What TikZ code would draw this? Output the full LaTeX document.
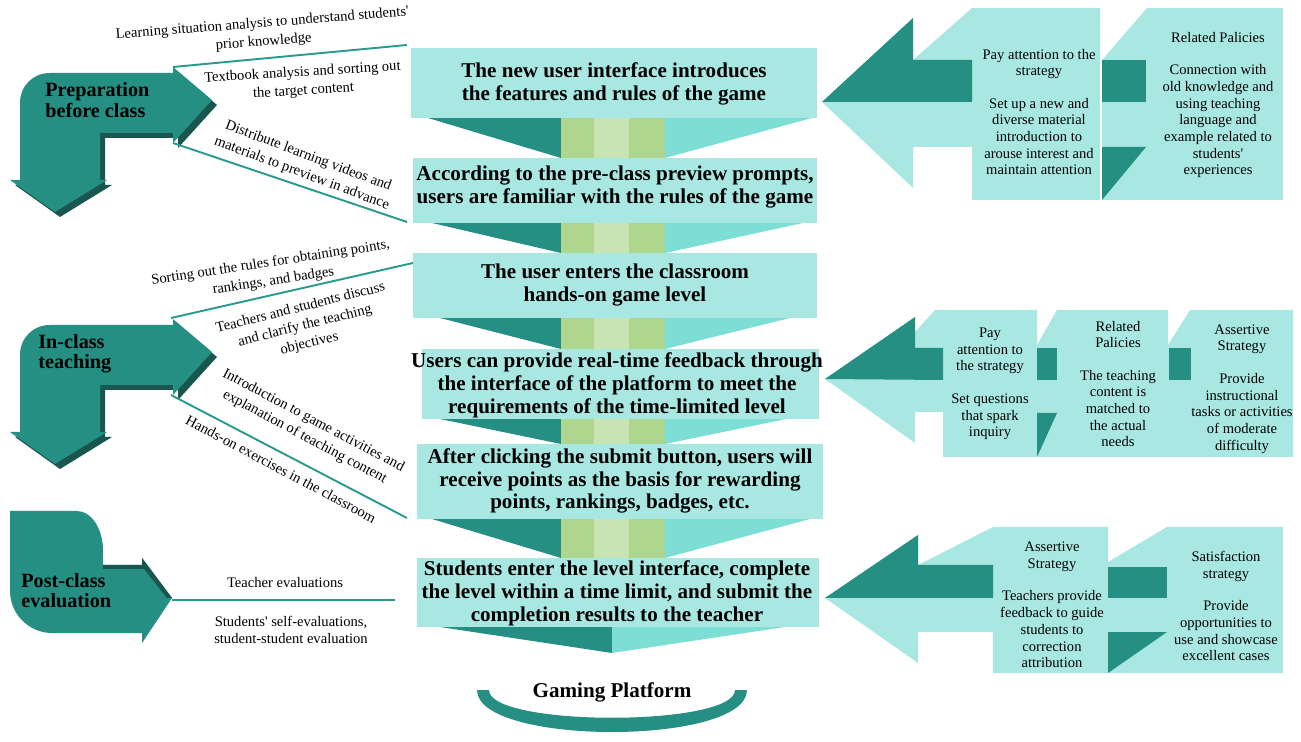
\documentclass[tikz,border=0pt]{standalone}
\usepackage{fontspec}
\setmainfont{Liberation Serif}
\definecolor{tealdark}{HTML}{258F84}
\definecolor{tealshade}{HTML}{19564F}
\definecolor{tealline}{HTML}{2A9A8F}
\definecolor{cyanlight}{HTML}{A9E8E2}
\definecolor{cyanmid}{HTML}{7DDED5}
\definecolor{greenmid}{HTML}{AED68F}
\definecolor{greenlight}{HTML}{C9E4B4}
\tikzset{
  stagebox/.style={fill=cyanlight,inner sep=0pt},
  stagetext/.style={font=\fontsize{12}{13}\selectfont\bfseries,align=center,inner sep=0pt},
  phasetext/.style={font=\fontsize{11.5}{11.5}\selectfont\bfseries,align=left,inner sep=0pt,anchor=west},
  note/.style={font=\fontsize{8.3}{9.5}\selectfont,align=center,inner sep=0pt},
  tiltnote/.style={note,font=\fontsize{8.3}{10.5}\selectfont},
  link/.style={draw=tealline,line width=1.1pt},
}

\begin{document}
\begin{tikzpicture}[x=0.02cm,y=-0.02cm]
    \useasboundingbox (0,0) rectangle (1301,742);

    \foreach \ya/\yb/\xl/\xr in {118/158/428/812,223/253/432/803,318/349/440/790,419/444/440/786,519/558/432/810}{
        \fill[tealdark] (\xl,\ya) -- (561,\ya) -- (561,\yb) -- cycle;
        \fill[cyanmid]  (665,\ya) -- (\xr,\ya) -- (665,\yb) -- cycle;
        \fill[greenmid]   (561,\ya) rectangle (594,\yb);
        \fill[greenlight] (594,\ya) rectangle (629,\yb);
        \fill[greenmid]   (629,\ya) rectangle (665,\yb);
    }
    \fill[tealdark] (440,627) -- (612,627) -- (612,653) -- cycle;
    \fill[cyanmid]  (612,627) -- (785,627) -- (612,653) -- cycle;

    \foreach \n/\xa/\ya/\xb/\yb in {1/411/48/817/118,2/413/158/817/223,3/413/253/817/318,4/422/349/819/419,5/417/444/823/519,6/417/558/819/627}
        \node[stagebox,minimum width={(\xb-\xa)*0.02cm},minimum height={(\yb-\ya)*0.02cm}] (box\n) at ({(\xa+\xb)/2},{(\ya+\yb)/2}) {};

    \node[stagetext] (step1) at (614,84)  {The new user interface introduces\\the features and rules of the game};
    \node[stagetext] (step2) at (615,187) {According to the pre-class preview prompts,\\users are familiar with the rules of the game};
    \node[stagetext] (step3) at (615,285) {The user enters the classroom\\hands-on game level};
    \node[stagetext] (step4) at (617,385) {Users can provide real-time feedback through\\the interface of the platform to meet the\\requirements of the time-limited level};
    \node[stagetext] (step5) at (620,481) {After clicking the submit button, users will\\receive points as the basis for rewarding\\points, rankings, badges, etc.};
    \node[stagetext] (step6) at (617,593) {Students enter the level interface, complete\\the level within a time limit, and submit the\\completion results to the teacher};

    \fill[tealdark] (477,690) .. controls (477,746) and (747,746) .. (747,690) -- (735,690) .. controls (735,727) and (489,727) .. (489,690) -- cycle;
    \node[stagetext] (platform) at (612,692) {Gaming Platform};

    \foreach \o in {0,252}
        \foreach \c/\s in {tealshade/5,tealdark/0}
            \fill[\c,shift={(\s,\o+\s)}] (20,180) -- (20,103) .. controls (20,86) and (33,73) .. (50,73) -- (173,73) -- (173,67) -- (212,100) -- (173,143) -- (173,133) -- (100,133) -- (100,180) -- (107,180) -- (55,212) -- (10,180) -- cycle;
    \fill[tealdark] (10,511) -- (77,511) .. controls (92,511) and (103,530) .. (103,550) -- (103,565) -- (142,565) -- (142,558) -- (172,598) -- (142,643) -- (142,633) -- (52,633) .. controls (29,633) and (10,614) .. (10,591) -- cycle;
    \fill[tealshade] (103,565) -- (142,565) -- (142,558) -- (172,598) -- (167,598) -- (144,569) -- (103,569) -- cycle;

    \node[phasetext] (prep)    at (45,100) {Preparation\\before class};
    \node[phasetext] (inclass) at (38,354) {In-class\\teaching};
    \node[phasetext] (post)    at (21,591) {Post-class\\evaluation};

    \coordinate (prepUp)   at (173,67);
    \coordinate (prepDown) at (173,143);
    \coordinate (inUp)     at (171,318);
    \coordinate (inDown)   at (171,395);
    \coordinate (postTip)  at (172,600);
    \coordinate (endA) at (407,45);
    \coordinate (endB) at (407,222);
    \coordinate (endC) at (413,263);
    \coordinate (endD) at (407,518);
    \coordinate (endE) at (395,600);
    \draw[link] (prepUp) -- (endA);
    \draw[link] (prepDown) -- (endB);
    \draw[link] (inUp) -- (endC);
    \draw[link] (inDown) -- (endD);
    \draw[link] (postTip) -- (endE);

    \node[tiltnote,rotate=4.5]   (n1) at (263,33)  {Learning situation analysis to understand students\textquotesingle\\prior knowledge};
    \node[tiltnote,rotate=3.5]   (n2) at (303,82)  {Textbook analysis and sorting out\\the target content};
    \node[tiltnote,rotate=-20.5] (n3) at (305,165) {Distribute learning videos and\\materials to preview in advance};
    \node[tiltnote,rotate=8.6]   (n4) at (272,272) {Sorting out the rules for obtaining points,\\rankings, and badges};
    \node[tiltnote,rotate=14]    (n5) at (305,326) {Teachers and students discuss\\and clarify the teaching\\objectives};
    \node[tiltnote,rotate=-28]   (n6) at (309,429) {Introduction to game activities and\\explanation of teaching content};
    \node[tiltnote,rotate=-28]   (n7) at (281,469) {Hands-on exercises in the classroom};
    \node[note] (n8) at (285,583) {Teacher evaluations};
    \node[note] (n9) at (291,630) {Students\textquotesingle{} self-evaluations,\\student-student evaluation};

    \fill[cyanlight] (822,102) -- (913,18) -- (913,60) -- (972,8) -- (1100,8) -- (1100,200) -- (972,200) -- (972,147) -- (913,147) -- (913,188) -- cycle;
    \fill[tealdark] (822,102) -- (913,18) -- (913,60) -- (972,60) -- (972,102) -- cycle;
    \fill[cyanlight] (1102,60) -- (1147,8) -- (1283,8) -- (1283,200) -- (1102,200) -- cycle;
    \fill[tealdark] (1102,60) rectangle (1146,102);
    \fill[tealdark] (1102,147) -- (1146,147) -- (1102,200) -- cycle;

    \fill[cyanlight] (825,379) -- (915,317) -- (915,332) -- (935,310) -- (1037,310) -- (1037,457) -- (943,457) -- (943,412) -- (915,412) -- (915,443) -- cycle;
    \fill[tealdark] (825,379) -- (915,317) -- (915,348) -- (943,348) -- (943,380) -- cycle;
    \fill[cyanlight] (1037,345) -- (1057,310) -- (1168,310) -- (1168,457) -- (1037,457) -- cycle;
    \fill[tealdark] (1037,348) rectangle (1057,380);
    \fill[tealdark] (1037,413) -- (1057,413) -- (1037,457) -- cycle;
    \fill[cyanlight] (1168,345) -- (1190,310) -- (1293,310) -- (1293,457) -- (1168,457) -- cycle;
    \fill[tealdark] (1169,348) rectangle (1191,380);

    \fill[cyanlight] (825,598) -- (918,535) -- (918,565) -- (993,527) -- (1108,527) -- (1108,673) -- (993,673) -- (993,632) -- (918,632) -- (918,663) -- cycle;
    \fill[tealdark] (825,598) -- (918,535) -- (918,565) -- (993,565) -- (993,598) -- cycle;
    \fill[cyanlight] (1108,562) -- (1167,527) -- (1283,527) -- (1283,673) -- (1108,673) -- cycle;
    \fill[tealdark] (1108,567) rectangle (1167,598);
    \fill[tealdark] (1108,632) -- (1167,632) -- (1108,673) -- cycle;

    \node[note] (g1a) at (1039,112) {Pay attention to the\\strategy\\[9pt]Set up a new and\\diverse material\\introduction to\\arouse interest and\\maintain attention};
    \node[note] (g1b) at (1218,105) {Related Palicies\\[9pt]Connection with\\old knowledge and\\using teaching\\language and\\example related to\\students\textquotesingle\\experiences};
    \node[note] (g2a) at (990,384)  {Pay\\attention to\\the strategy\\[9pt]Set questions\\that spark\\inquiry};
    \node[note] (g2b) at (1118,384) {Related\\Palicies\\[9pt]The teaching\\content is\\matched to\\the actual\\needs};
    \node[note] (g2c) at (1242,389) {Assertive\\Strategy\\[9pt]Provide\\instructional\\tasks or activities\\of moderate\\difficulty};
    \node[note] (g3a) at (1052,605) {Assertive\\Strategy\\[9pt]Teachers provide\\feedback to guide\\students to\\correction\\attribution};
    \node[note] (g3b) at (1226,606) {Satisfaction\\strategy\\[9pt]Provide\\opportunities to\\use and showcase\\excellent cases};
\end{tikzpicture}
\end{document}
